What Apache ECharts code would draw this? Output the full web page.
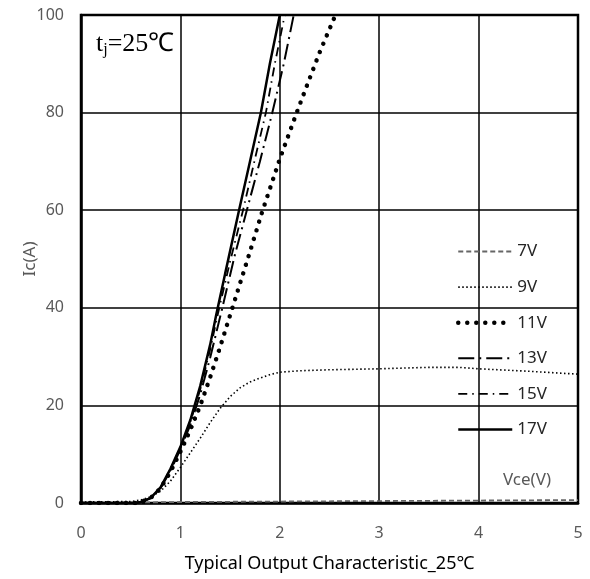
<!DOCTYPE html>
<html lang="en">
<head>
    <meta charset="UTF-8">
    <title>Typical Output Characteristic</title>
    <script src="https://cdn.jsdelivr.net/npm/echarts@6/dist/echarts.min.js"></script>
    <style>
        html, body { margin: 0; padding: 0; background: #fff; }
    </style>
</head>
<body>
<div id="myDiv" style="width: 590px;height: 579px"></div>

<script>
    // Vce (V), Ic (A) pairs
    var vge7 = [[0, 0.1], [0.5, 0.1], [1, 0.2], [2, 0.3], [3, 0.4], [4, 0.5], [5, 0.6]];
    var vge9 = [[0, 0.2], [0.5, 0.3], [0.6, 0.6], [0.7, 1.3], [0.8, 2.4], [0.9, 4.5], [1.0, 7.3], [1.1, 10.3],
        [1.2, 13.3], [1.3, 16.5], [1.4, 19.4], [1.5, 21.8], [1.6, 23.6], [1.7, 24.8], [1.8, 25.6], [1.9, 26.3],
        [2.0, 26.8], [2.2, 27.1], [2.5, 27.3], [3.0, 27.5], [3.5, 27.8], [3.8, 27.8], [4.0, 27.5], [4.5, 27.0], [5.0, 26.4]];
    var vge11 = [[0, 0], [0.55, 0], [0.6, 0.2], [0.7, 1], [0.8, 3], [0.9, 6.4], [1.0, 10.5], [1.1, 15], [1.2, 20],
        [1.3, 25.8], [1.4, 32], [1.5, 38.5], [1.6, 45], [1.7, 51.5], [1.82, 59.5], [2.0, 70.5], [2.17, 80],
        [2.3, 87], [2.4, 92.3], [2.56, 100]];
    var vge13 = [[0, 0], [0.55, 0], [0.6, 0.2], [0.7, 1.0], [0.8, 3.0], [0.9, 6.6], [1.0, 11], [1.1, 16], [1.2, 22.3],
        [1.3, 29.8], [1.41, 39], [1.55, 51], [1.675, 60.5], [1.8, 70], [1.925, 80], [2.04, 90], [2.14, 100]];
    var vge15 = [[0, 0], [0.55, 0], [0.6, 0.2], [0.7, 1.0], [0.8, 3.1], [0.9, 6.9], [1.0, 11.3], [1.1, 16.6], [1.2, 23.3],
        [1.3, 31.5], [1.38, 39], [1.5, 49.5], [1.63, 60], [1.75, 70.5], [1.86, 80], [1.95, 90], [2.05, 100]];
    var vge17 = [[0, 0], [0.55, 0], [0.6, 0.2], [0.7, 1.0], [0.8, 3.2], [0.9, 7], [1.0, 11.5], [1.1, 17], [1.2, 24],
        [1.3, 32.5], [1.36, 38.5], [1.45, 47], [1.59, 60], [1.7, 70], [1.81, 80], [1.9, 90], [2.0, 100]];
    var names = ['7V', '9V', '11V', '13V', '15V', '17V'];

    var styles = {
        '7V': { color: '#666', width: 1.8, type: [5, 3] },
        '9V': { color: '#000', width: 1.6, type: [1.5, 2.5] },
        '11V': { color: '#000', width: 4.5, type: [0.01, 9], cap: 'round' },
        '13V': { color: '#000', width: 2, type: [16, 5, 2, 5] },
        '15V': { color: '#000', width: 1.8, type: [9, 5, 1.5, 5] },
        '17V': { color: '#000', width: 2.5 }
    };

    var myChart = echarts.init(document.getElementById('myDiv'));

    function line(name, data) {
        return {
            name: name,
            type: 'line',
            data: data,
            symbol: 'none',
            showSymbol: false,
            itemStyle: { color: styles[name].color },
            lineStyle: styles[name],
            z: 3
        };
    }

    var option = {
        backgroundColor: '#fff',
        animation: false,
        grid: {
            left: 81, right: 12, top: 15, bottom: 76,
            show: true, borderColor: '#000', borderWidth: 2.5
        },
        legend: {
            data: names.map(function (n) {
                return { name: n, lineStyle: styles[n] };
            }),
            orient: 'vertical',
            left: 451,
            top: 238,
            itemWidth: 54,
            itemHeight: 14,
            itemGap: 18.6,
            itemStyle: { opacity: 0 },
            textStyle: { fontFamily: 'Noto Sans', fontSize: 17, color: '#262626' }
        },
        xAxis: {
            type: 'value',
            min: 0, max: 5, interval: 1,
            name: 'Typical Output Characteristic_25\u2103',
            nameLocation: 'middle',
            nameGap: 52,
            nameTextStyle: { fontFamily: 'Noto Sans', fontSize: 18, color: '#000' },
            axisLine: { show: true, lineStyle: { color: '#000', width: 2.5 } },
            axisTick: { show: false },
            axisLabel: { margin: 22, fontFamily: 'Noto Sans', fontSize: 16, color: '#595959' },
            splitLine: { show: true, lineStyle: { color: '#000', width: 1.5 } }
        },
        yAxis: {
            type: 'value',
            min: 0, max: 100, interval: 20,
            name: 'Ic(A)',
            nameLocation: 'middle',
            nameGap: 42,
            nameMoveOverlap: false,
            nameTextStyle: { fontFamily: 'Noto Sans', fontSize: 17, color: '#595959' },
            axisLine: { show: true, lineStyle: { color: '#000', width: 2.5 } },
            axisTick: { show: false },
            axisLabel: { margin: 17, fontFamily: 'Noto Sans', fontSize: 16, color: '#595959' },
            splitLine: { show: true, lineStyle: { color: '#000', width: 1.5 } }
        },
        graphic: [
            {
                type: 'text', left: 96, top: 31, z: 10,
                style: {
                    text: '{t|t}{s|j}{t|=25\u2103}',
                    rich: {
                        t: { fontFamily: 'Liberation Serif', fontSize: 26, fill: '#000' },
                        s: { fontFamily: 'Liberation Serif', fontSize: 16, fill: '#000', verticalAlign: 'bottom', padding: [12, 0, 0, 0] }
                    }
                }
            },
            {
                type: 'text', left: 503, top: 472, z: 10,
                style: { text: 'Vce(V)', fontFamily: 'Noto Sans', fontSize: 17, fill: '#595959' }
            }
        ],
        series: names.map(function (n, i) {
            return line(n, [vge7, vge9, vge11, vge13, vge15, vge17][i]);
        })
    };
    myChart.setOption(option);
</script>
</body>
</html>
